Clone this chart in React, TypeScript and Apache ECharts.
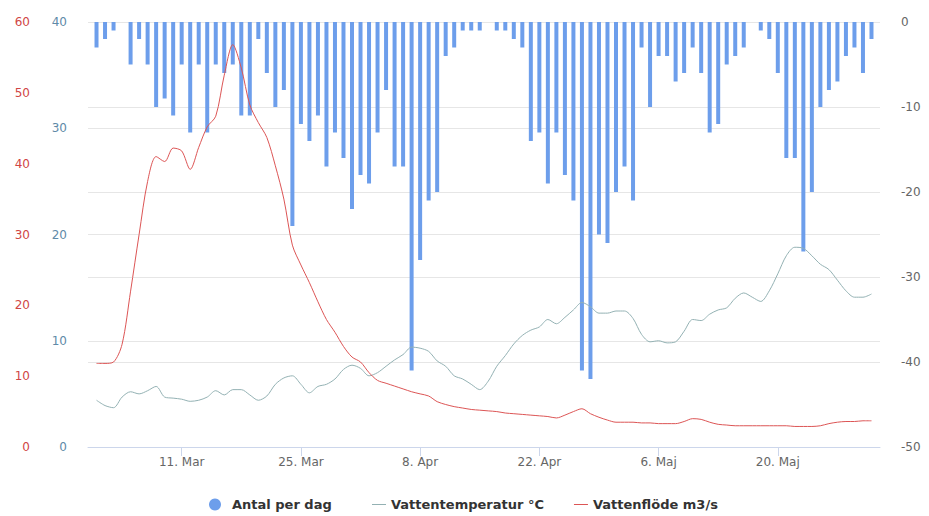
import React, { useEffect, useRef } from "react";
import * as echarts from "echarts";

// Daily values from 1 March to 31 May (x = day number, 1 March = 0)
const countPerDay = [
  -3, -2, -1, 0, -5, -2, -5, -10, -9, -11, -5, -13, -5, -13, -5, -6, -5, -11, -11, -2, -6, -10, -8, -24, -12, -14, -11, -17, -13, -16, -22,
  -18, -19, -13, -8, -17, -17, -41, -28, -21, -20, -4, -3, -1, -1, -1, 0, -1, -1, -2, -3, -14, -13, -19, -13, -18, -21, -41, -42, -25, -26,
  -20, -17, -21, -3, -10, -4, -4, -7, -6, -3, -6, -13, -12, -5, -4, -3, 0, -1, -2, -6, -16, -16, -27, -20, -10, -8, -7, -4, -3, -6, -2,
];
const waterTemp = [
  4.4, 3.9, 3.7, 4.7, 5.2, 5.0, 5.3, 5.7, 4.7, 4.6, 4.5, 4.3, 4.4, 4.7, 5.3, 4.9, 5.4, 5.4, 4.9, 4.4, 4.8, 5.9, 6.5, 6.7, 5.9, 5.1, 5.7, 5.9, 6.4, 7.3, 7.7,
  7.4, 6.7, 7.0, 7.6, 8.2, 8.7, 9.4, 9.3, 9.0, 8.1, 7.6, 6.7, 6.4, 5.9, 5.4, 6.2, 7.6, 8.6, 9.7, 10.5, 11.0, 11.3, 12.0, 11.6, 12.2, 12.9, 13.6, 13.2, 12.6, 12.6,
  12.8, 12.8, 12.1, 10.6, 9.9, 10.0, 9.8, 9.9, 10.9, 12.0, 11.9, 12.5, 12.9, 13.1, 14.0, 14.5, 14.1, 13.7, 14.7, 16.3, 18.0, 18.8, 18.7, 18.0, 17.2, 16.7, 15.7, 14.7, 14.1, 14.1, 14.4,
];
const waterFlow = [
  11.8, 11.8, 12.0, 14.5, 22, 30, 37.5, 41, 40.3, 42.2, 41.8, 39.2, 42.3, 45.2, 46.7, 52.5, 56.8, 53.5, 48.3, 45.8, 43.7, 39.7, 35, 28.5, 25.7, 23.2, 20.5, 18, 16.2, 14.2, 12.7,
  12.0, 10.5, 9.4, 9.0, 8.6, 8.2, 7.8, 7.5, 7.2, 6.4, 6.0, 5.7, 5.5, 5.3, 5.2, 5.1, 5.0, 4.8, 4.7, 4.6, 4.5, 4.4, 4.3, 4.1, 4.5, 5.0, 5.4, 4.7, 4.2, 3.8,
  3.5, 3.5, 3.5, 3.4, 3.4, 3.3, 3.3, 3.3, 3.6, 4.0, 3.9, 3.5, 3.2, 3.1, 3.0, 3.0, 3.0, 3.0, 3.0, 3.0, 3.0, 2.9, 2.9, 2.9, 3.0, 3.3, 3.5, 3.6, 3.6, 3.7, 3.7,
];
// x-axis tick days (days since 1 March) and their labels
const tickDays = [10, 24, 38, 52, 66, 80];
const tickLabels = ["11. Mar", "25. Mar", "8. Apr", "22. Apr", "6. Maj", "20. Maj"];
const seriesNames = ["Antal per dag", "Vattentemperatur °C", "Vattenflöde m3/s"];

const barColor = "#6d9eeb";
const tempColor = "#93b1b3";
const flowColor = "#dc5555";

export default function App() {
  const ref = useRef<HTMLDivElement>(null);
  useEffect(() => {
    if (!ref.current) return;
    const chart = echarts.init(ref.current, null, { renderer: "svg" });
    const font = "DejaVu Sans";
    const legendText = { fontFamily: font, fontSize: 13, fontWeight: "bold", color: "#333" };
    chart.setOption({
      animation: false,
      textStyle: { fontFamily: font },
      grid: { left: 88, right: 49, top: 22, bottom: 69, containLabel: false },
      legend: [
        {
          top: 498,
          left: 209,
          padding: 0,
          itemWidth: 12,
          itemHeight: 12,
          textStyle: { ...legendText, padding: [0, 0, 0, 6] },
          data: [{ name: seriesNames[0], icon: "circle", itemStyle: { color: barColor } }],
        },
        {
          top: 498,
          left: 372,
          padding: 0,
          itemGap: 30,
          itemWidth: 14,
          itemHeight: 1,
          textStyle: legendText,
          data: [
            { name: seriesNames[1], icon: "rect", itemStyle: { color: tempColor } },
            { name: seriesNames[2], icon: "rect", itemStyle: { color: flowColor } },
          ],
        },
      ],
      xAxis: {
        type: "value",
        min: -1,
        max: 92,
        axisLine: { show: true, lineStyle: { color: "#ccd6eb" } },
        axisTick: { show: true, customValues: tickDays, length: 9, lineStyle: { color: "#ccd6eb" } },
        axisLabel: {
          customValues: tickDays,
          color: "#666",
          fontSize: 12,
          margin: 9,
          formatter: (v: number) => {
            const k = tickDays.indexOf(Math.round(v));
            return k >= 0 ? tickLabels[k] : "";
          },
        },
        splitLine: { show: false },
      },
      yAxis: [
        {
          type: "value",
          position: "left",
          offset: 37,
          min: 0,
          max: 60,
          interval: 10,
          axisLine: { show: false },
          axisTick: { show: false },
          splitLine: { show: false },
          axisLabel: { color: "#d04545", fontSize: 12, margin: 21 },
        },
        {
          type: "value",
          position: "left",
          min: 0,
          max: 40,
          interval: 10,
          axisLine: { show: false },
          axisTick: { show: false },
          splitLine: { show: true, lineStyle: { color: "#e6e6e6" } },
          axisLabel: { color: "#5f8aa8", fontSize: 12, margin: 21 },
        },
        {
          type: "value",
          position: "right",
          min: -50,
          max: 0,
          interval: 10,
          axisLine: { show: false },
          axisTick: { show: false },
          splitLine: { show: true, lineStyle: { color: "#e6e6e6" } },
          axisLabel: { color: "#666", fontSize: 12, margin: 21 },
        },
      ],
      series: [
        {
          name: seriesNames[0],
          type: "bar",
          yAxisIndex: 2,
          barWidth: 4,
          itemStyle: { color: barColor },
          data: countPerDay.map((v, i) => [i, v]),
        },
        {
          name: seriesNames[1],
          type: "line",
          yAxisIndex: 1,
          symbol: "none",
          smooth: 0.3,
          lineStyle: { color: tempColor, width: 1 },
          itemStyle: { color: tempColor },
          data: waterTemp.map((v, i) => [i, v]),
        },
        {
          name: seriesNames[2],
          type: "line",
          yAxisIndex: 0,
          symbol: "none",
          smooth: 0.3,
          lineStyle: { color: flowColor, width: 1 },
          itemStyle: { color: flowColor },
          data: waterFlow.map((v, i) => [i, v]),
        },
      ],
    });
    return () => chart.dispose();
  }, []);
  return <div ref={ref} style={{ width: 929, height: 516, position: "absolute", left: 0, top: 0 }} />;
}
